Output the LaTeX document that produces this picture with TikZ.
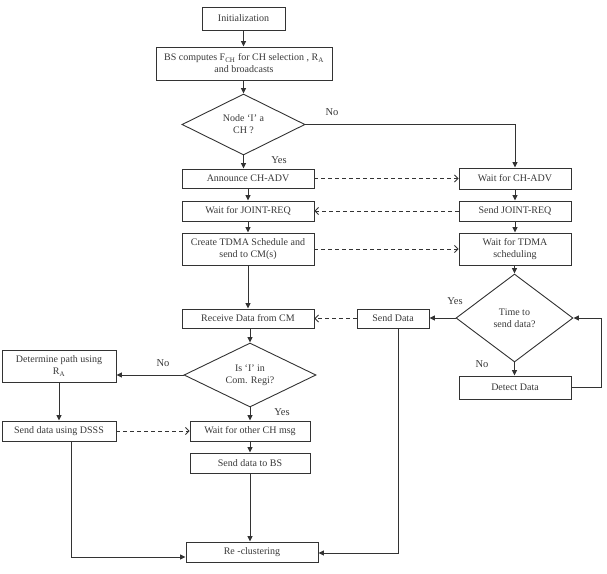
\documentclass[tikz,border=0pt]{standalone}
\usepackage{fontspec}
\setmainfont{Liberation Serif}
\usetikzlibrary{shapes.geometric,arrows.meta}
\definecolor{ink}{gray}{0.2}
\definecolor{txt}{gray}{0.22}
\begin{document}
\begin{tikzpicture}[x=1pt,y=-1pt,
  box/.style={draw=ink, line width=0.9pt, rectangle, inner sep=1pt, align=center, text=txt, font=\fontsize{10}{12}\selectfont},
  dec/.style={draw=ink, line width=0.9pt, diamond, aspect=2, inner sep=0pt, align=center, text=txt, font=\fontsize{10}{12}\selectfont},
  arr/.style={draw=ink, line width=1pt, -{Triangle[length=5.5pt,width=5pt]}},
  darr/.style={draw=ink, line width=0.9pt, dash pattern=on 4pt off 3pt, -{Straight Barb[length=3.5pt,width=7pt]}},
  lab/.style={text=txt, font=\fontsize{10.5}{12}\selectfont}]
\useasboundingbox (0,0) rectangle (607,573);

\node[box, minimum width=83pt, minimum height=23pt] (init) at (243.5,18.5) {Initialization};
\node[box, minimum width=176pt, minimum height=33pt] (bs) at (244,63.5) {BS computes F\textsubscript{CH} for CH selection , R\textsubscript{A}\\and broadcasts};
\node[dec, minimum width=123pt, minimum height=61pt] (d1) at (243.5,124.5) {Node ‘I’ a\\CH ?};
\node[box, minimum width=132pt, minimum height=19pt] (ann) at (248,178.5) {Announce CH-ADV};
\node[box, minimum width=132pt, minimum height=20pt] (wjr) at (248,211) {Wait for JOINT-REQ};
\node[box, minimum width=132pt, minimum height=32pt] (ctd) at (248,249) {Create TDMA Schedule and\\send to CM(s)};
\node[box, minimum width=112pt, minimum height=21pt] (wadv) at (515,178.5) {Wait for CH-ADV};
\node[box, minimum width=112pt, minimum height=20pt] (sjr) at (515,211) {Send JOINT-REQ};
\node[box, minimum width=112pt, minimum height=32pt] (wtd) at (515,249) {Wait for TDMA\\scheduling};
\node[dec, aspect=1.33, minimum width=117pt, minimum height=88pt] (d2) at (514.5,318) {Time to\\send data?};
\node[box, minimum width=72pt, minimum height=19pt] (sd) at (393,318.5) {Send Data};
\node[box, minimum width=112pt, minimum height=23pt] (dd) at (515,387.5) {Detect Data};
\node[box, minimum width=132pt, minimum height=19pt] (rcv) at (248,318.5) {Receive Data from CM};
\node[dec, minimum width=132pt, minimum height=64pt] (d3) at (250,375) {Is ‘I’ in\\Com. Regi?};
\node[box, minimum width=120pt, minimum height=20pt] (wo) at (250,431) {Wait for other CH msg};
\node[box, minimum width=120pt, minimum height=20pt] (sbs) at (250,463) {Send data to BS};
\node[box, minimum width=114pt, minimum height=32pt] (det) at (59,366) {Determine path using\\R\textsubscript{A}};
\node[box, minimum width=114pt, minimum height=20pt] (dsss) at (59,431) {Send data using DSSS};
\node[box, minimum width=132pt, minimum height=20pt] (rc) at (252,552) {Re -clustering};

\node[lab] (lno1) at (332,112) {No};
\node[lab] (lyes1) at (279,160) {Yes};
\node[lab] (lyes2) at (455,301) {Yes};
\node[lab] (lno2) at (482,364) {No};
\node[lab] (lno3) at (163,363) {No};
\node[lab] (lyes3) at (282,412) {Yes};

\draw[arr] (init.south) -- (init.south |- bs.north);
\draw[arr] (bs.south -| d1.north) -- (d1.north);
\draw[arr] (d1.south) -- (d1.south |- ann.north);
\draw[arr] (d1.east) -| (wadv.north);
\draw[arr] (ann) -- (wjr);
\draw[arr] (wjr) -- (ctd);
\draw[arr] (ctd) -- (rcv);
\draw[arr] (wadv) -- (sjr);
\draw[arr] (sjr) -- (wtd);
\draw[arr] (wtd.south -| d2.north) -- (d2.north);
\draw[darr] (ann.east) -- (wadv.west);
\draw[darr] (sjr.west) -- (wjr.east);
\draw[darr] (ctd.east) -- (wtd.west);
\draw[arr] (d2.west) -- (d2.west -| sd.east);
\draw[arr] (d2.south) -- (d2.south |- dd.north);
\draw[arr] (dd.east) -- ++(30,0) |- (d2.east);
\draw[darr] (sd.west) -- (rcv.east);
\draw[arr] (d3.north |- rcv.south) -- (d3.north);
\draw[arr] (d3.west) -- (d3.west -| det.east);
\draw[arr] (d3.south) -- (d3.south |- wo.north);
\draw[arr] (det) -- (dsss);
\draw[darr] (dsss.east) -- (wo.west);
\draw[arr] (wo) -- (sbs);
\draw[arr] (sbs.south) -- (sbs.south |- rc.north);
\draw[arr] ([xshift=12pt]dsss.south) |- ([yshift=-5pt]rc.west);
\draw[arr] ([xshift=5pt]sd.south) |- ([yshift=-1pt]rc.east);
\end{tikzpicture}
\end{document}
